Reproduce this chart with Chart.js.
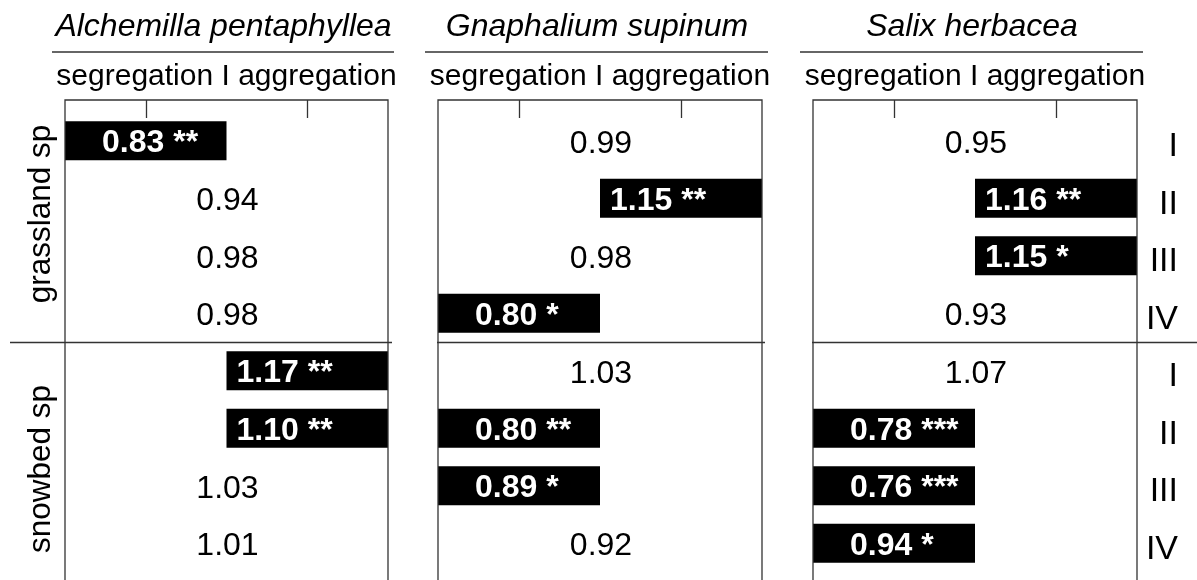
<!DOCTYPE html>
<html>
<head>
<meta charset="utf-8">
<script src="https://cdn.jsdelivr.net/npm/chart.js@4.4.1/dist/chart.umd.min.js"></script>
<style>
    body { margin: 0; background: #fff; }
    #wrap { position: relative; width: 1197px; height: 580px; overflow: hidden; }
    .panel { position: absolute; top: 0; height: 580px; }
</style>
</head>
<body>
<div id="wrap">
    <div class="panel" style="left:0px;width:400px"><canvas id="c1" width="400" height="580"></canvas></div>
    <div class="panel" style="left:400px;width:390px"><canvas id="c2" width="390" height="580"></canvas></div>
    <div class="panel" style="left:790px;width:407px"><canvas id="c3" width="407" height="580"></canvas></div>
</div>
<script>
// rows: 4 grassland species groups, then 4 snowbed species groups
const rowLabels = ["grassland I", "grassland II", "grassland III", "grassland IV",
                   "snowbed I", "snowbed II", "snowbed III", "snowbed IV"];
const romanLabels = ["I", "II", "III", "IV", "I", "II", "III", "IV"];
const groupLabels = ["grassland sp", "snowbed sp"];
const species = ["Alchemilla pentaphyllea", "Gnaphalium supinum", "Salix herbacea"];
const subTitle = "segregation I aggregation";

const alchemillaValues = [0.83, 0.94, 0.98, 0.98, 1.17, 1.10, 1.03, 1.01];
const alchemillaSig    = ["**", "", "", "", "**", "**", "", ""];
const gnaphaliumValues = [0.99, 1.15, 0.98, 0.80, 1.03, 0.80, 0.89, 0.92];
const gnaphaliumSig    = ["", "**", "", "*", "", "**", "*", ""];
const salixValues      = [0.95, 1.16, 1.15, 0.93, 1.07, 0.78, 0.76, 0.94];
const salixSig         = ["", "**", "*", "", "", "***", "***", "*"];

const FONT = '"Liberation Sans", Arial, Helvetica, sans-serif';

// significant results get a block on the segregation (<1) or aggregation (>1) side
function blocks(values, sig) {
    return values.map((v, i) => sig[i] ? (v < 1 ? [0, 1] : [1, 2]) : null);
}

const panelPlugin = {
    id: "panelDecor",
    afterDraw(chart) {
        const o = chart.options.plugins.panelDecor;
        const ctx = chart.ctx;
        const a = chart.chartArea;
        const xs = chart.scales.x;
        const ys = chart.scales.y;
        const mid = (a.left + a.right) / 2;
        const frameTop = a.top - 12;
        ctx.save();

        // title + underline + subtitle
        ctx.fillStyle = "#000";
        ctx.textAlign = "center";
        ctx.textBaseline = "alphabetic";
        ctx.font = "italic 32px " + FONT;
        ctx.fillText(o.title, mid - 3, 36);
        ctx.strokeStyle = "#333";
        ctx.lineWidth = 1.3;
        ctx.beginPath();
        ctx.moveTo(a.left - 13, 52);
        ctx.lineTo(a.right + 6, 52);
        ctx.stroke();
        ctx.font = "30px " + FONT;
        ctx.fillText(subTitle, mid, 85);

        // frame (top, left, right) and inner ticks
        ctx.beginPath();
        ctx.moveTo(a.left, chart.height);
        ctx.lineTo(a.left, frameTop);
        ctx.lineTo(a.right, frameTop);
        ctx.lineTo(a.right, chart.height);
        [0.5, 1.5].forEach(t => {
            const px = Math.round(xs.getPixelForValue(t)) + 0.5;
            ctx.moveTo(px, frameTop);
            ctx.lineTo(px, frameTop + 18);
        });
        // separator between grassland and snowbed species
        const sepY = Math.round((ys.getPixelForValue(3) + ys.getPixelForValue(4)) / 2) + 0.5;
        ctx.moveTo(o.sepLeft, sepY);
        ctx.lineTo(o.sepRight, sepY);
        ctx.stroke();

        // values
        const meta = chart.getDatasetMeta(0);
        o.values.forEach((v, i) => {
            const y = ys.getPixelForValue(i);
            const txt = v.toFixed(2) + (o.sig[i] ? " " + o.sig[i] : "");
            if (o.sig[i]) {
                const bar = meta.data[i];
                const left = Math.min(bar.x, bar.base);
                ctx.fillStyle = "#fff";
                ctx.font = "bold 32px " + FONT;
                ctx.textAlign = "left";
                ctx.fillText(txt, left + (v < 1 ? 37 : 10), y + 11.5);
            } else {
                ctx.fillStyle = "#000";
                ctx.font = "32px " + FONT;
                ctx.textAlign = "center";
                ctx.fillText(txt, mid + 1, y + 12);
            }
        });

        // group labels on the left
        if (o.groups) {
            ctx.fillStyle = "#000";
            ctx.font = "31.5px " + FONT;
            ctx.textAlign = "center";
            const g1 = (ys.getPixelForValue(1) + ys.getPixelForValue(2)) / 2 - 13;
            const g2 = (ys.getPixelForValue(5) + ys.getPixelForValue(6)) / 2 + 12;
            [[groupLabels[0], g1], [groupLabels[1], g2]].forEach(([t, cy]) => {
                ctx.save();
                ctx.translate(50, cy);
                ctx.rotate(-Math.PI / 2);
                ctx.fillText(t, 0, 0);
                ctx.restore();
            });
        }

        // roman numerals on the right
        if (o.roman) {
            ctx.fillStyle = "#000";
            ctx.font = "34px " + FONT;
            ctx.textAlign = "right";
            romanLabels.forEach((r, i) => {
                ctx.fillText(r, a.right + 41, ys.getPixelForValue(i) + 15.5);
            });
        }
        ctx.restore();
    }
};

function makePanel(id, title, values, sig, pad, decor) {
    new Chart(document.getElementById(id), {
        type: "bar",
        data: {
            labels: rowLabels,
            datasets: [{
                data: blocks(values, sig),
                backgroundColor: "#000",
                borderWidth: 0,
                categoryPercentage: 1,
                barPercentage: 0.68
            }]
        },
        options: {
            indexAxis: "y",
            responsive: false,
            animation: false,
            layout: { padding: pad },
            scales: {
                x: { type: "linear", min: 0, max: 2, display: false },
                y: { display: false, offset: true }
            },
            plugins: {
                legend: { display: false },
                tooltip: { enabled: false },
                panelDecor: Object.assign({ title: title, values: values, sig: sig }, decor)
            }
        },
        plugins: [panelPlugin]
    });
}

makePanel("c1", species[0], alchemillaValues, alchemillaSig,
    { left: 65, right: 12, top: 112, bottom: 8 },
    { groups: true, roman: false, sepLeft: 10, sepRight: 392 });
makePanel("c2", species[1], gnaphaliumValues, gnaphaliumSig,
    { left: 38, right: 28, top: 112, bottom: 8 },
    { groups: false, roman: false, sepLeft: 37, sepRight: 365 });
makePanel("c3", species[2], salixValues, salixSig,
    { left: 23, right: 60, top: 112, bottom: 8 },
    { groups: false, roman: true, sepLeft: 22, sepRight: 407 });
</script>
</body>
</html>
